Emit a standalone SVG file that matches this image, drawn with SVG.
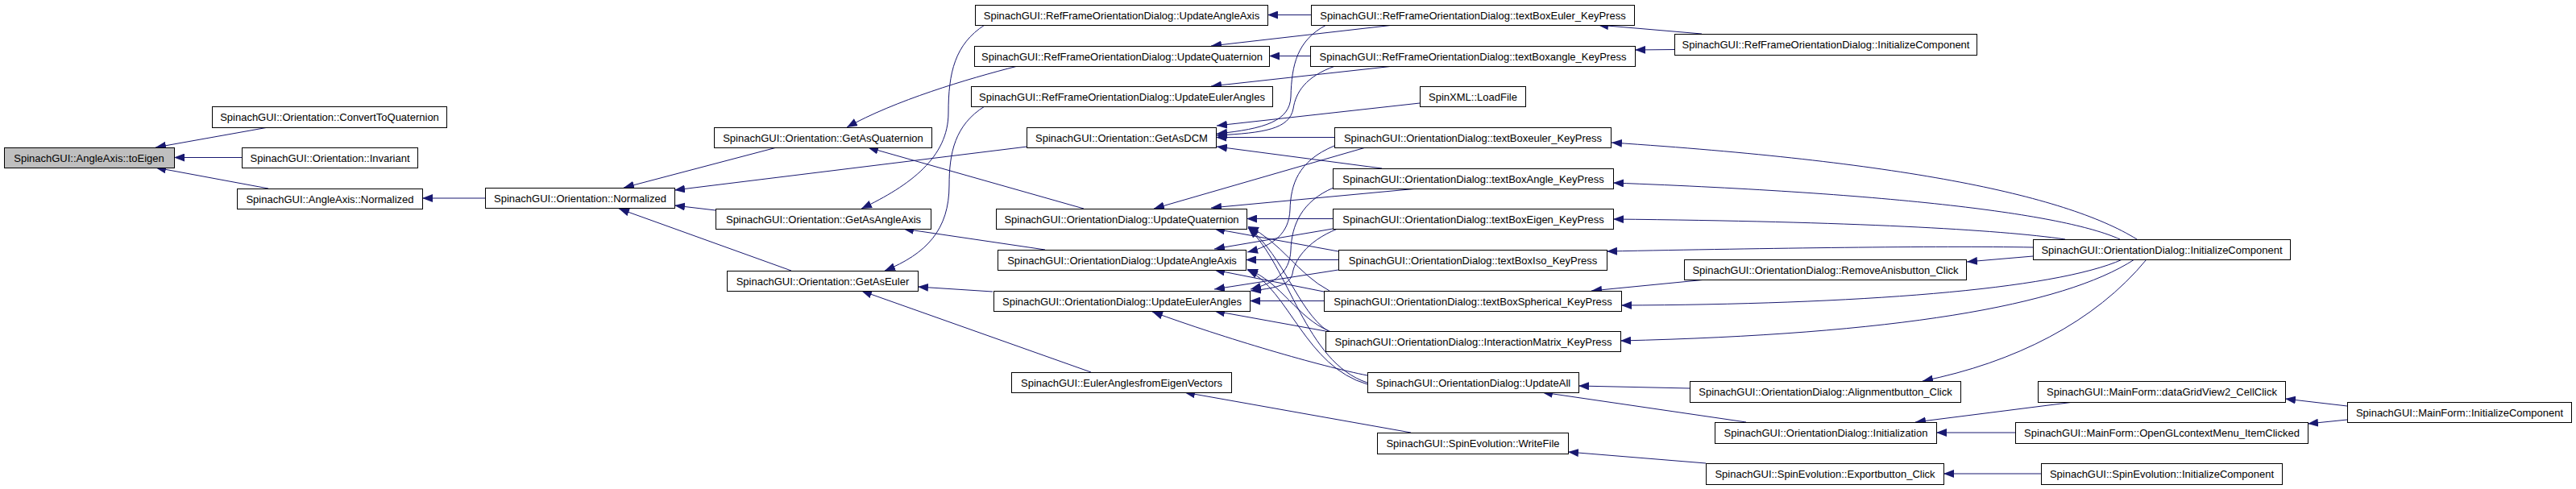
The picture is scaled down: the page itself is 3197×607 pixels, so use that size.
<svg xmlns="http://www.w3.org/2000/svg" width="3197" height="607" viewBox="0 0 3197 607">
<style>
.node rect{fill:#fff;stroke:#000;stroke-width:1}
.node.root rect{fill:#bfbfbf}
.node text{font-family:"Liberation Sans",Arial,sans-serif;font-size:13px;text-anchor:middle;fill:#000}
.edges path{fill:none;stroke:#191970;stroke-width:1;marker-end:url(#arr)}
</style>
<defs>
<marker id="arr" markerWidth="13" markerHeight="10" refX="13" refY="5" orient="auto" markerUnits="userSpaceOnUse"><path d="M0,0 L13,5 L0,10 z" fill="#191970"/></marker>
</defs>
<rect x="0" y="0" width="3197" height="607" fill="#fff"/>
<g class="edges">
<path d="M333,158 L193,183"/>
<path d="M300,195.5 L216,195.5"/>
<path d="M333,234 L193,208"/>
<path d="M602,246 L524,246"/>
<path d="M964,183 L774,233"/>
<path d="M1275,182 L837,236"/>
<path d="M888,261 L837,255"/>
<path d="M982,336 L768,259"/>
<path d="M1263,82 C1200,98 1110,125 1051,158"/>
<path d="M1345,259 L1077,183"/>
<path d="M1222,31 C1185,55 1177,90 1177,140 C1177,195 1130,230 1069,259"/>
<path d="M1297,310 L1121,284"/>
<path d="M1222,132 C1185,155 1178,190 1178,230 C1178,285 1150,315 1098,336"/>
<path d="M1232,362 L1139,356"/>
<path d="M1354,462 L1069,361"/>
<path d="M1627,18.5 L1573,18.5"/>
<path d="M1730,31 L1503,57"/>
<path d="M1626,69.5 L1575,69.5"/>
<path d="M1730,82 L1503,107"/>
<path d="M1762,128 L1510,156"/>
<path d="M1646,31 C1610,50 1603,80 1602,120 C1601,150 1570,160 1510,166"/>
<path d="M1657,82 C1620,95 1608,115 1605,135 C1600,160 1570,165 1510,168"/>
<path d="M1656,170.5 L1509,170.5"/>
<path d="M1715,209 L1510,182"/>
<path d="M1695,183 L1432,259"/>
<path d="M1760,234 L1503,258"/>
<path d="M1654,271.5 L1547,271.5"/>
<path d="M1661,312 L1507,284"/>
<path d="M1650,361 C1610,340 1590,300 1549,281"/>
<path d="M1648,411 C1610,385 1595,320 1549,282"/>
<path d="M1697,475 C1620,450 1600,330 1549,283"/>
<path d="M1656,181 C1610,200 1602,230 1601,260 C1600,290 1580,305 1548,313"/>
<path d="M1654,284 L1507,309"/>
<path d="M1661,322.5 L1546,322.5"/>
<path d="M1643,362 L1507,335"/>
<path d="M1650,411 C1610,395 1590,350 1548,334"/>
<path d="M1697,477 C1620,455 1600,360 1548,335"/>
<path d="M1655,233 C1615,250 1603,280 1602,310 C1601,340 1580,352 1552,359"/>
<path d="M1660,284 C1620,300 1606,325 1604,340 C1600,355 1580,358 1552,361"/>
<path d="M1661,335 L1507,359"/>
<path d="M1643,373.5 L1551,373.5"/>
<path d="M1645,411 L1507,386"/>
<path d="M1697,466 C1640,455 1520,420 1430,387"/>
<path d="M2112,42 L1983,31"/>
<path d="M2078,61.5 L2029,62"/>
<path d="M2652,297 C2560,240 2350,200 2000,177"/>
<path d="M2631,297 C2560,265 2350,240 2002,227"/>
<path d="M2563,297 C2480,285 2300,275 2002,272"/>
<path d="M2523,307 C2400,305 2200,308 1994,312"/>
<path d="M2523,318 L2441,325"/>
<path d="M2118,347 L1975,361"/>
<path d="M2634,322 C2550,360 2300,378 2012,379"/>
<path d="M2649,322 C2560,380 2350,415 2011,423"/>
<path d="M2664,322 C2600,400 2500,450 2386,473"/>
<path d="M2097,482 L1959,479"/>
<path d="M2167,524 L1914,487"/>
<path d="M2574,499 L2377,524"/>
<path d="M2501,537 L2403,537"/>
<path d="M2913,504 L2836,495"/>
<path d="M2913,521 L2864,526"/>
<path d="M2533,588 L2412,588"/>
<path d="M2117,575 L1946,561"/>
<path d="M1751,537 L1470,487"/>
</g>
<g id="n0" class="node root"><rect x="5.5" y="183.5" width="211" height="25"/><text x="110.5" y="200.5">SpinachGUI::AngleAxis::toEigen</text></g>
<g id="n1" class="node"><rect x="263.5" y="132.5" width="291" height="26"/><text x="409" y="150">SpinachGUI::Orientation::ConvertToQuaternion</text></g>
<g id="n2" class="node"><rect x="300.5" y="183.5" width="218" height="25"/><text x="409.5" y="200.5">SpinachGUI::Orientation::Invariant</text></g>
<g id="n3" class="node"><rect x="294.5" y="234.5" width="230" height="25"/><text x="409.5" y="251.5">SpinachGUI::AngleAxis::Normalized</text></g>
<g id="n4" class="node"><rect x="602.5" y="233.5" width="235" height="25"/><text x="720" y="250.5">SpinachGUI::Orientation::Normalized</text></g>
<g id="n5" class="node"><rect x="886.5" y="158.5" width="270" height="25"/><text x="1021.5" y="175.5">SpinachGUI::Orientation::GetAsQuaternion</text></g>
<g id="n6" class="node"><rect x="888.5" y="259.5" width="267" height="25"/><text x="1022" y="276.5">SpinachGUI::Orientation::GetAsAngleAxis</text></g>
<g id="n7" class="node"><rect x="902.5" y="336.5" width="237" height="25"/><text x="1021" y="353.5">SpinachGUI::Orientation::GetAsEuler</text></g>
<g id="n8" class="node"><rect x="1210.5" y="6.5" width="363" height="25"/><text x="1392" y="23.5">SpinachGUI::RefFrameOrientationDialog::UpdateAngleAxis</text></g>
<g id="n9" class="node"><rect x="1209.5" y="57.5" width="366" height="25"/><text x="1392.5" y="74.5">SpinachGUI::RefFrameOrientationDialog::UpdateQuaternion</text></g>
<g id="n10" class="node"><rect x="1205.5" y="107.5" width="374" height="25"/><text x="1392.5" y="124.5">SpinachGUI::RefFrameOrientationDialog::UpdateEulerAngles</text></g>
<g id="n11" class="node"><rect x="1274.5" y="158.5" width="235" height="25"/><text x="1392" y="175.5">SpinachGUI::Orientation::GetAsDCM</text></g>
<g id="n12" class="node"><rect x="1236.5" y="259.5" width="311" height="25"/><text x="1392" y="276.5">SpinachGUI::OrientationDialog::UpdateQuaternion</text></g>
<g id="n13" class="node"><rect x="1238.5" y="310.5" width="308" height="25"/><text x="1392.5" y="327.5">SpinachGUI::OrientationDialog::UpdateAngleAxis</text></g>
<g id="n14" class="node"><rect x="1233.5" y="361.5" width="318" height="25"/><text x="1392.5" y="378.5">SpinachGUI::OrientationDialog::UpdateEulerAngles</text></g>
<g id="n15" class="node"><rect x="1255.5" y="462.5" width="273" height="25"/><text x="1392" y="479.5">SpinachGUI::EulerAnglesfromEigenVectors</text></g>
<g id="n16" class="node"><rect x="1627.5" y="6.5" width="401" height="25"/><text x="1828" y="23.5">SpinachGUI::RefFrameOrientationDialog::textBoxEuler_KeyPress</text></g>
<g id="n17" class="node"><rect x="1626.5" y="57.5" width="403" height="25"/><text x="1828" y="74.5">SpinachGUI::RefFrameOrientationDialog::textBoxangle_KeyPress</text></g>
<g id="n18" class="node"><rect x="1762.5" y="107.5" width="131" height="25"/><text x="1828" y="124.5">SpinXML::LoadFile</text></g>
<g id="n19" class="node"><rect x="1656.5" y="158.5" width="343" height="25"/><text x="1828" y="175.5">SpinachGUI::OrientationDialog::textBoxeuler_KeyPress</text></g>
<g id="n20" class="node"><rect x="1654.5" y="209.5" width="348" height="25"/><text x="1828.5" y="226.5">SpinachGUI::OrientationDialog::textBoxAngle_KeyPress</text></g>
<g id="n21" class="node"><rect x="1654.5" y="259.5" width="348" height="25"/><text x="1828.5" y="276.5">SpinachGUI::OrientationDialog::textBoxEigen_KeyPress</text></g>
<g id="n22" class="node"><rect x="1661.5" y="310.5" width="333" height="25"/><text x="1828" y="327.5">SpinachGUI::OrientationDialog::textBoxIso_KeyPress</text></g>
<g id="n23" class="node"><rect x="1643.5" y="361.5" width="369" height="25"/><text x="1828" y="378.5">SpinachGUI::OrientationDialog::textBoxSpherical_KeyPress</text></g>
<g id="n24" class="node"><rect x="1645.5" y="411.5" width="366" height="25"/><text x="1828.5" y="428.5">SpinachGUI::OrientationDialog::InteractionMatrix_KeyPress</text></g>
<g id="n25" class="node"><rect x="1697.5" y="462.5" width="262" height="25"/><text x="1828.5" y="479.5">SpinachGUI::OrientationDialog::UpdateAll</text></g>
<g id="n26" class="node"><rect x="1709.5" y="537.5" width="237" height="26"/><text x="1828" y="555">SpinachGUI::SpinEvolution::WriteFile</text></g>
<g id="n27" class="node"><rect x="2078.5" y="42.5" width="375" height="26"/><text x="2266" y="60">SpinachGUI::RefFrameOrientationDialog::InitializeComponent</text></g>
<g id="n28" class="node"><rect x="2090.5" y="322.5" width="350" height="25"/><text x="2265.5" y="339.5">SpinachGUI::OrientationDialog::RemoveAnisbutton_Click</text></g>
<g id="n29" class="node"><rect x="2097.5" y="473.5" width="336" height="26"/><text x="2265.5" y="491">SpinachGUI::OrientationDialog::Alignmentbutton_Click</text></g>
<g id="n30" class="node"><rect x="2128.5" y="524.5" width="275" height="26"/><text x="2266" y="542">SpinachGUI::OrientationDialog::Initialization</text></g>
<g id="n31" class="node"><rect x="2117.5" y="575.5" width="295" height="26"/><text x="2265" y="593">SpinachGUI::SpinEvolution::Exportbutton_Click</text></g>
<g id="n32" class="node"><rect x="2523.5" y="297.5" width="319" height="25"/><text x="2683" y="314.5">SpinachGUI::OrientationDialog::InitializeComponent</text></g>
<g id="n33" class="node"><rect x="2529.5" y="473.5" width="307" height="26"/><text x="2683" y="491">SpinachGUI::MainForm::dataGridView2_CellClick</text></g>
<g id="n34" class="node"><rect x="2913.5" y="499.5" width="278" height="25"/><text x="3052.5" y="516.5">SpinachGUI::MainForm::InitializeComponent</text></g>
<g id="n35" class="node"><rect x="2501.5" y="524.5" width="363" height="26"/><text x="2683" y="542">SpinachGUI::MainForm::OpenGLcontextMenu_ItemClicked</text></g>
<g id="n36" class="node"><rect x="2533.5" y="575.5" width="299" height="26"/><text x="2683" y="593">SpinachGUI::SpinEvolution::InitializeComponent</text></g>
</svg>
